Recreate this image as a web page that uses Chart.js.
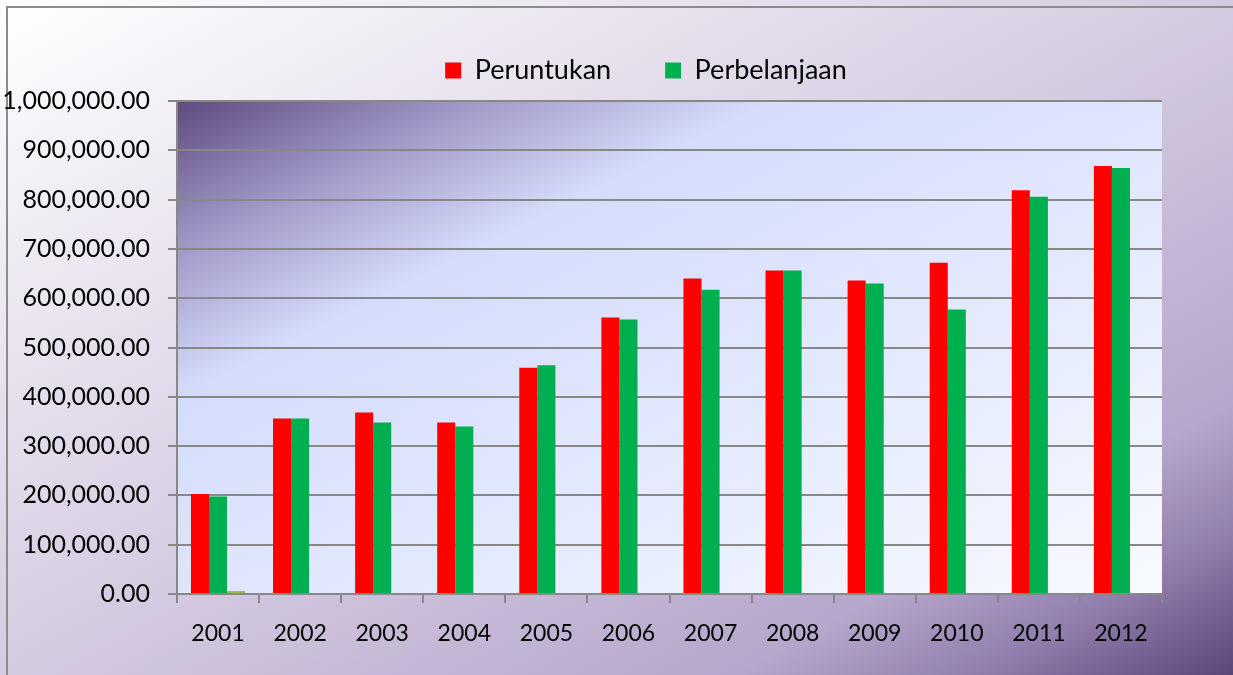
<!DOCTYPE html>
<html>
<head>
<meta charset="utf-8">
<script src="https://cdn.jsdelivr.net/npm/chart.js@4"></script>
<style>
  html, body { margin: 0; padding: 0; background: #ffffff; }
  #wrap { width: 1233px; height: 675px; }
</style>
</head>
<body>
<div id="wrap"><canvas id="chart" width="1233" height="675"></canvas></div>
<script>
// data
var years = ['2001', '2002', '2003', '2004', '2005', '2006', '2007', '2008', '2009', '2010', '2011', '2012'];
var peruntukan = [203000, 356000, 368000, 348000, 459000, 561000, 640000, 656000, 636000, 672000, 819000, 868000];
var perbelanjaan = [198000, 356000, 348000, 340000, 464000, 557000, 617000, 656000, 630000, 577000, 806000, 864000];
var lain = [6000, null, null, null, null, null, null, null, null, null, null, null];
var y_ticks = [0, 100000, 200000, 300000, 400000, 500000, 600000, 700000, 800000, 900000, 1000000];

var grid_colour = '#888888';
var font_name = 'Lato, "Open Sans", sans-serif';

// outer and plot-area gradients, drawn under everything else
var backdrop = {
    id: 'backdrop',
    afterLayout: function(chart)
    {
        // legend sits off-centre in the original
        var lg = chart.legend;
        lg.left += 65; lg.right += 65;
        lg.top -= 7; lg.bottom -= 7;
    },
    beforeDraw: function(chart)
    {
        var ctx = chart.ctx;
        var w = chart.width, h = chart.height;
        var a = chart.chartArea;

        // 45 degree gradient in box space (iso-lines parallel to the anti-diagonal)
        function diag(x0, y0, bw, bh)
        {
            var k = 2 * bw * bh / (bw * bw + bh * bh);
            return ctx.createLinearGradient(x0, y0, x0 + k * bh, y0 + k * bw);
        }

        ctx.save();
        var g = diag(0, 0, w, h);
        g.addColorStop(0, '#ffffff');
        g.addColorStop(0.5, '#d5cbe1');
        g.addColorStop(0.8, '#b6a6cb');
        g.addColorStop(0.9, '#8f7cab');
        g.addColorStop(1, '#5c4779');
        ctx.fillStyle = g;
        ctx.fillRect(0, 0, w, h);

        ctx.strokeStyle = '#8c8c8c';
        ctx.lineWidth = 2;
        ctx.strokeRect(7, 7, w + 10, h + 10);

        var pw = a.right - a.left, ph = a.bottom - a.top;
        g = diag(a.left, a.top, pw, ph);
        g.addColorStop(0, '#5f4a7e');
        g.addColorStop(0.15, '#9f98c6');
        g.addColorStop(0.3, '#d5dcfb');
        g.addColorStop(0.6, '#e3e9fd');
        g.addColorStop(1, '#f8faff');
        ctx.fillStyle = g;
        ctx.fillRect(a.left, a.top, pw, ph);
        ctx.restore();
    }
};

var config = {
    type: 'bar',
    data: {
        labels: years,
        datasets: [
            { label: 'Peruntukan', data: peruntukan, backgroundColor: '#ff0000' },
            { label: 'Perbelanjaan', data: perbelanjaan, backgroundColor: '#00b050' },
            { label: 'Lain', data: lain, backgroundColor: '#9bbb59' }
        ]
    },
    options: {
        responsive: false,
        animation: false,
        categoryPercentage: 0.66,
        barPercentage: 1.0,
        layout: { padding: { left: 0, right: 71, top: 10, bottom: 0 } },
        plugins: {
            tooltip: { enabled: false },
            legend: {
                position: 'top',
                labels: {
                    boxWidth: 16,
                    boxHeight: 16,
                    padding: 54,
                    color: '#000000',
                    font: { family: font_name, size: 27 },
                    filter: function(item) { return item.datasetIndex < 2; }
                }
            }
        },
        scales: {
            x: {
                afterFit: function(scale) { scale.height = 81; },
                grid: { drawOnChartArea: false, drawTicks: true, tickLength: 9, color: grid_colour, lineWidth: 2 },
                border: { color: grid_colour, width: 2 },
                ticks: { color: '#000000', padding: 17, font: { family: font_name, size: 23 } }
            },
            y: {
                min: 0,
                max: 1000000,
                afterFit: function(scale) { scale.width = 177; },
                afterBuildTicks: function(scale) { scale.ticks = y_ticks.map(function(v) { return { value: v }; }); },
                grid: { color: grid_colour, lineWidth: 2, tickLength: 9 },
                border: { color: grid_colour, width: 2 },
                ticks: {
                    color: '#000000',
                    padding: 18,
                    font: { family: font_name, size: 25 },
                    callback: function(v) {
                        return Number(v).toLocaleString('en-US', { minimumFractionDigits: 2, maximumFractionDigits: 2 });
                    }
                }
            }
        }
    },
    plugins: [backdrop]
};

window.addEventListener('load', function()
{
    new Chart(document.getElementById('chart'), config);
});
</script>
</body>
</html>
